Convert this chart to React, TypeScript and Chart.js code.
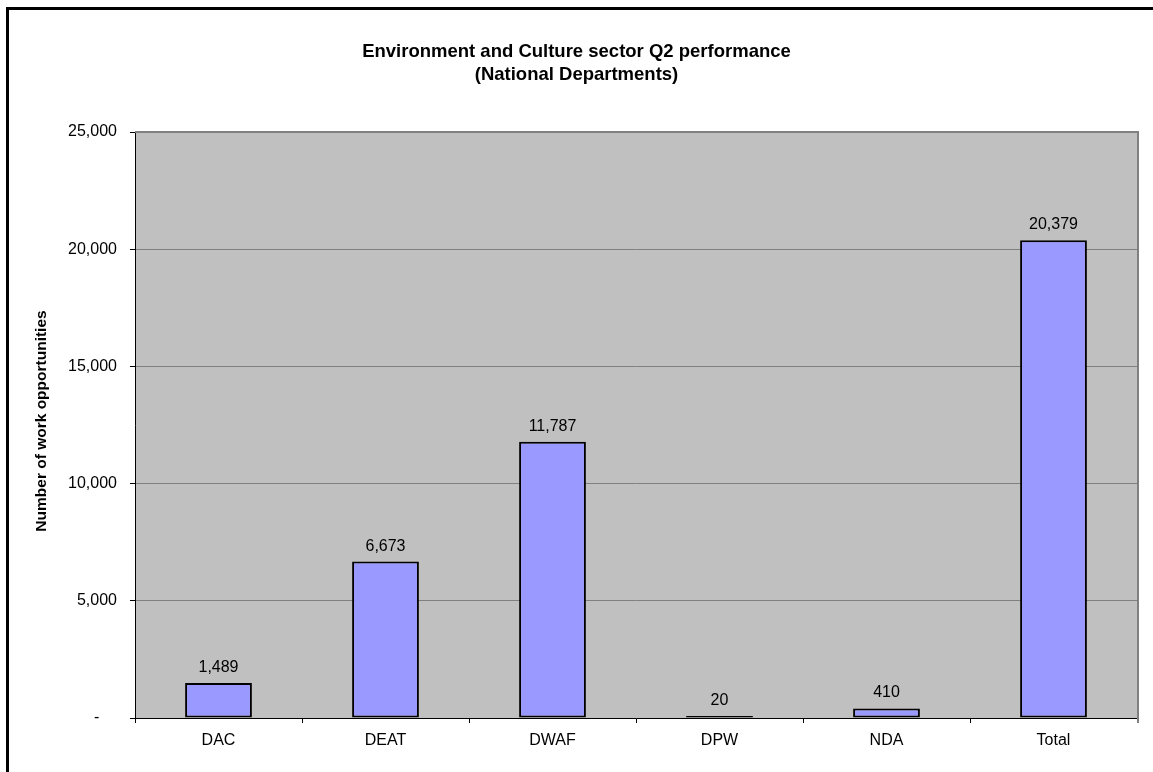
import { useEffect, useRef } from "react";
import { Chart, registerables } from "chart.js";

Chart.register(...registerables);

// Work opportunities per national department
const categories = ["DAC", "DEAT", "DWAF", "DPW", "NDA", "Total"];
const workOpportunities = [1489, 6673, 11787, 20, 410, 20379];
const yTickValues = [0, 5000, 10000, 15000, 20000, 25000];
const titleLines = ["Environment and Culture sector Q2 performance", "(National Departments)"];
const yAxisTitle = "Number of work opportunities";

const FONT = "'Liberation Sans', Arial, Helvetica, sans-serif";
const W = 1153;
const H = 772;

const fmt = (v: number) => v.toLocaleString("en-US");

// Page background, outer frame, plot fill and titles
const decorPlugin = {
  id: "decor",
  beforeDraw(chart: any) {
    const { ctx, chartArea } = chart;
    ctx.save();
    ctx.fillStyle = "#ffffff";
    ctx.fillRect(0, 0, chart.width, chart.height);
    // frame
    ctx.fillStyle = "#000000";
    ctx.fillRect(6, 7, 3, chart.height);
    ctx.fillRect(6, 7, chart.width, 3);
    // plot area
    ctx.fillStyle = "#C0C0C0";
    ctx.fillRect(chartArea.left, chartArea.top, chartArea.right - chartArea.left, chartArea.bottom - chartArea.top);
    // titles
    ctx.fillStyle = "#000000";
    ctx.textAlign = "center";
    ctx.textBaseline = "alphabetic";
    ctx.font = `bold 18.5px ${FONT}`;
    ctx.fillText(titleLines[0], W / 2, 57);
    ctx.fillText(titleLines[1], W / 2, 80);
    ctx.translate(42, (chartArea.top + chartArea.bottom) / 2 - 4);
    ctx.rotate(-Math.PI / 2);
    ctx.textBaseline = "middle";
    ctx.font = `bold 15.5px ${FONT}`;
    ctx.fillText(yAxisTitle, 0, 0);
    ctx.restore();
  },
  beforeDatasetsDraw(chart: any) {
    const { ctx, chartArea } = chart;
    ctx.save();
    ctx.strokeStyle = "#808080";
    ctx.lineWidth = 2;
    ctx.beginPath();
    ctx.moveTo(chartArea.left, chartArea.top);
    ctx.lineTo(chartArea.right + 1, chartArea.top);
    ctx.lineTo(chartArea.right + 1, chartArea.bottom + 5);
    ctx.stroke();
    ctx.restore();
  },
  afterDatasetsDraw(chart: any) {
    const { ctx } = chart;
    const meta = chart.getDatasetMeta(0);
    ctx.save();
    ctx.fillStyle = "#000000";
    ctx.font = `16px ${FONT}`;
    ctx.textAlign = "center";
    ctx.textBaseline = "alphabetic";
    meta.data.forEach((bar: any, i: number) => {
      ctx.fillText(fmt(workOpportunities[i]), bar.x, bar.y - 11);
    });
    ctx.restore();
  },
};

export default function App() {
  const canvasRef = useRef<HTMLCanvasElement | null>(null);

  useEffect(() => {
    const canvas = canvasRef.current;
    if (!canvas) return;
    const chart = new Chart(canvas, {
      type: "bar",
      data: {
        labels: categories,
        datasets: [
          {
            data: workOpportunities,
            backgroundColor: "#9999FF",
            borderColor: "#000000",
            borderWidth: 2,
            borderSkipped: false,
            barPercentage: 0.4,
            categoryPercentage: 1,
            minBarLength: 2,
          },
        ],
      },
      options: {
        responsive: false,
        animation: false,
        layout: { padding: { left: 0, top: 132, right: 16, bottom: 0 } },
        plugins: {
          legend: { display: false },
          title: { display: false },
          tooltip: { enabled: false },
        },
        scales: {
          x: {
            offset: true,
            grid: {
              offset: true,
              drawOnChartArea: false,
              drawTicks: true,
              tickLength: 5,
              tickColor: "#000000",
            },
            border: { color: "#000000", width: 1 },
            ticks: {
              color: "#000000",
              font: { family: FONT, size: 16 },
              padding: 8,
              maxRotation: 0,
            },
            afterFit(scale: any) {
              scale.height = 54;
            },
          },
          y: {
            min: 0,
            max: 25000,
            afterBuildTicks(scale: any) {
              scale.ticks = yTickValues.map((v) => ({ value: v }));
            },
            grid: {
              color: "#808080",
              tickColor: "#000000",
              tickLength: 5,
              drawTicks: true,
            },
            border: { color: "#000000", width: 1 },
            ticks: {
              color: "#000000",
              font: { family: FONT, size: 16 },
              padding: 13,
              callback: (v: any) => (Number(v) === 0 ? "-    " : fmt(Number(v))),
            },
            afterFit(scale: any) {
              scale.width = 135;
            },
          },
        },
      },
      plugins: [decorPlugin],
    });
    return () => chart.destroy();
  }, []);

  return (
    <canvas
      ref={canvasRef}
      width={W}
      height={H}
      style={{ position: "absolute", left: 0, top: 0, display: "block", width: W, height: H }}
    />
  );
}
